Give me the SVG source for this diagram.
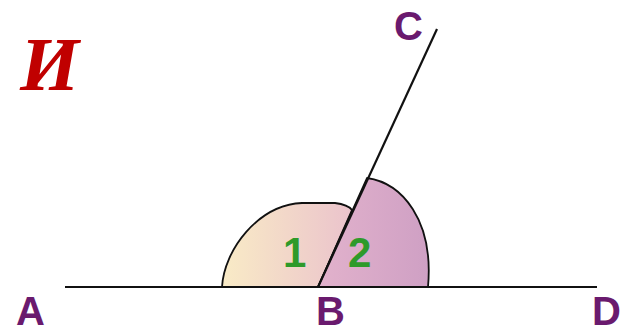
<svg xmlns="http://www.w3.org/2000/svg" width="623" height="334" viewBox="0 0 623 334">
<defs>
<linearGradient id="g1" x1="0" y1="0" x2="1" y2="0">
<stop offset="0" stop-color="#f9ebc6"/>
<stop offset="1" stop-color="#ebc3cc"/>
</linearGradient>
<linearGradient id="g2" x1="0" y1="0" x2="1" y2="0">
<stop offset="0" stop-color="#e2b2cc"/>
<stop offset="1" stop-color="#cfa0c4"/>
</linearGradient>
</defs>
<style>
.sec{stroke:#111;stroke-width:1.8;stroke-linejoin:round}
.ln{stroke:#111;stroke-width:2.2;fill:none}
.pt{font-family:"Liberation Sans",Arial,sans-serif;font-weight:bold;font-size:40px;fill:#6a1a6e}
.num{font-family:"Liberation Sans",Arial,sans-serif;font-weight:bold;font-size:42px;fill:#2e9a2a}
</style>
<rect width="623" height="334" fill="#ffffff"/>
<text x="20" y="90" font-family="Liberation Serif,serif" font-weight="bold" font-style="italic" font-size="76" fill="#c00000">И</text>
<g id="angle1">
<path class="sec" fill="url(#g1)" d="M318 287 L222 287 C224 250 258 205 302 203 L335 203 C343 204 349 206 352 210 Z"/>
<text class="num" x="283" y="267">1</text>
</g>
<g id="angle2">
<path class="sec" fill="url(#g2)" d="M318 287 L367 178 C402 183 434 220 428 287 Z"/>
<text class="num" x="348" y="267">2</text>
</g>
<g id="connectors">
<line class="ln" x1="65" y1="287" x2="597" y2="287"/>
<line class="ln" x1="318" y1="287" x2="437" y2="29"/>
</g>
<g id="A"><text class="pt" x="16" y="325">A</text></g>
<g id="B"><text class="pt" x="316" y="325">B</text></g>
<g id="C"><text class="pt" x="394" y="40">C</text></g>
<g id="D"><text class="pt" x="621" y="325" text-anchor="end">D</text></g>
</svg>
